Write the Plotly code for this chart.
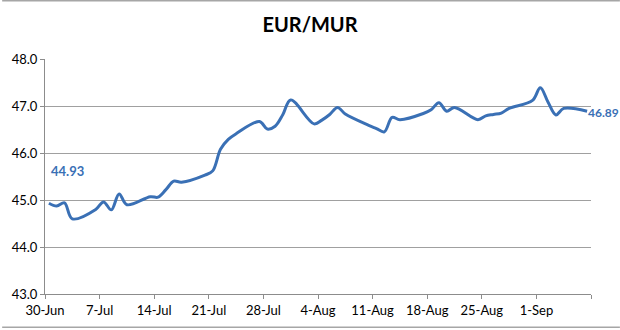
import pandas as pd
import plotly.graph_objects as go

# Business-day EUR/MUR indicative rates
dates = ["2020-06-30", "2020-07-01", "2020-07-02", "2020-07-03",
         "2020-07-06", "2020-07-07", "2020-07-08", "2020-07-09", "2020-07-10",
         "2020-07-13", "2020-07-14", "2020-07-15", "2020-07-16", "2020-07-17",
         "2020-07-20", "2020-07-21", "2020-07-22", "2020-07-23", "2020-07-24",
         "2020-07-27", "2020-07-28", "2020-07-29", "2020-07-30", "2020-07-31",
         "2020-08-03", "2020-08-04", "2020-08-05", "2020-08-06", "2020-08-07",
         "2020-08-10", "2020-08-11", "2020-08-12", "2020-08-13", "2020-08-14",
         "2020-08-17", "2020-08-18", "2020-08-19", "2020-08-20", "2020-08-21",
         "2020-08-24", "2020-08-25", "2020-08-26", "2020-08-27", "2020-08-28",
         "2020-08-31", "2020-09-01", "2020-09-02", "2020-09-03", "2020-09-04",
         "2020-09-07"]
rates = [44.93, 44.87, 44.94, 44.60,
         44.80, 44.96, 44.79, 45.13, 44.90,
         45.07, 45.06, 45.22, 45.40, 45.38,
         45.53, 45.62, 46.08, 46.29, 46.41,
         46.67, 46.51, 46.57, 46.82, 47.13,
         46.62, 46.70, 46.82, 46.97, 46.83,
         46.59, 46.52, 46.45, 46.76, 46.71,
         46.84, 46.92, 47.07, 46.89, 46.97,
         46.71, 46.79, 46.82, 46.85, 46.95,
         47.12, 47.39, 47.08, 46.81, 46.95,
         46.89]
tick_labels = ["30-Jun", "7-Jul", "14-Jul", "21-Jul", "28-Jul", "4-Aug",
               "11-Aug", "18-Aug", "25-Aug", "1-Sep"]
tick_dates = ["2020-06-30", "2020-07-07", "2020-07-14", "2020-07-21", "2020-07-28",
              "2020-08-04", "2020-08-11", "2020-08-18", "2020-08-25", "2020-09-01"]
y_ticks = [43.0, 44.0, 45.0, 46.0, 47.0, 48.0]

W, H = 620, 330
ML, MR, MT, MB = 43, 29, 59, 35
blue = "#3A70B5"
grey = "#A6A6A6"
font = "Lato"

half = pd.Timedelta(hours=12)
d = pd.to_datetime(dates)
td = pd.to_datetime(tick_dates)
x_start = td[0] - half
x_end = x_start + pd.Timedelta(days=70)
tickvals = list(td - half) + [x_end]
ticktext = tick_labels + [""]

fig = go.Figure()
fig.add_trace(go.Scatter(
    x=d, y=rates, mode="lines",
    line=dict(color=blue, width=3, shape="spline", smoothing=1),
    hoverinfo="skip", showlegend=False))

fig.add_annotation(x=d[0], y=rates[0], text=f"<b>{rates[0]:.2f}</b>",
                   showarrow=False, xanchor="left", yanchor="bottom",
                   xshift=0, yshift=22, font=dict(family=font, size=13, color=blue))
fig.add_annotation(x=d[-1], y=rates[-1], text=f"<b>{rates[-1]:.2f}</b>",
                   showarrow=False, xanchor="left", yanchor="middle",
                   xshift=-1, yshift=-1, font=dict(family=font, size=12, color=blue))

pw = W - ML - MR
ph = H - MT - MB
for ypix in (0.5, 328.5):
    yp = (H - MB - ypix) / ph
    fig.add_shape(type="line", xref="paper", yref="paper",
                  x0=-ML / pw, x1=(W - ML) / pw, y0=yp, y1=yp,
                  line=dict(color=grey, width=1.5))

fig.update_layout(
    width=W, height=H,
    margin=dict(l=ML, r=MR, t=MT, b=MB),
    paper_bgcolor="white", plot_bgcolor="white",
    title=dict(text="<b>EUR/MUR</b>", x=0.5, xanchor="center", y=1 - 25 / H,
               yanchor="middle", font=dict(family=font, size=20, color="black")),
    font=dict(family=font, size=13, color="black"),
)
fig.update_xaxes(type="date", range=[x_start, x_end], tickmode="array",
                 tickvals=tickvals, ticktext=ticktext, showgrid=False,
                 showline=True, linecolor="#8C8C8C", linewidth=1,
                 ticks="outside", ticklen=4, tickcolor="#8C8C8C",
                 tickfont=dict(family=font, size=13, color="black"))
fig.update_yaxes(range=[43, 48], tickmode="array", tickvals=y_ticks,
                 ticktext=[f"{v:.1f}" for v in y_ticks],
                 showgrid=True, gridcolor="#A0A0A0", gridwidth=1,
                 showline=True, linecolor="#8C8C8C", linewidth=1,
                 ticks="outside", ticklen=4, tickcolor="#8C8C8C",
                 zeroline=False, tickfont=dict(family=font, size=13, color="black"))

fig.write_html("out.html")
